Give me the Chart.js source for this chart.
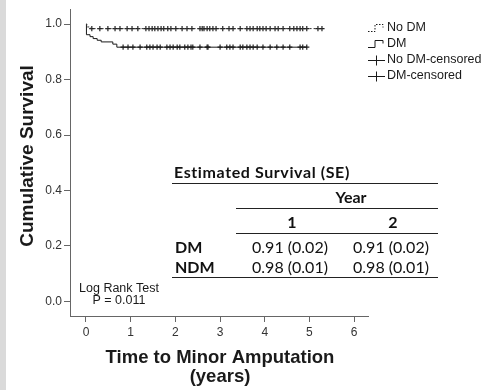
<!DOCTYPE html>
<html>
<head>
<meta charset="utf-8">
<script src="https://cdn.jsdelivr.net/npm/chart.js@4"></script>
<style>
  html, body { margin: 0; padding: 0; background: #fff; }
  #wrap { position: relative; width: 484px; height: 390px; overflow: hidden; }
  #strip { position: absolute; left: 0; top: 0; width: 6px; height: 390px; background: #dadada; }
  canvas { position: absolute; left: 0; top: 0; }
  .t { position: absolute; font-family: Lato, "Open Sans", sans-serif; font-size: 16px; color: #111;
       line-height: 20px; height: 20px; white-space: nowrap; }
  .b { font-weight: bold; }
  .c { transform: translateX(-50%); }
  .ln { position: absolute; height: 1px; background: #222; }
</style>
</head>
<body>
<div id="wrap">
  <div id="strip"></div>
  <canvas id="km" width="484" height="390"></canvas>

  <div class="t b" style="left:174px; top:162px; letter-spacing:0.6px;">Estimated Survival (SE)</div>
  <div class="ln" style="left:172px; top:183px; width:266px;"></div>
  <div class="t b c" style="left:351px; top:187px;">Year</div>
  <div class="ln" style="left:236px; top:208px; width:202px;"></div>
  <div class="t b c" style="left:292px; top:212px;">1</div>
  <div class="t b c" style="left:393px; top:212px;">2</div>
  <div class="ln" style="left:236px; top:233px; width:202px;"></div>
  <div class="t b" style="left:175px; top:237px;">DM</div>
  <div class="t c" style="left:290px; top:237px;">0.91 (0.02)</div>
  <div class="t c" style="left:391px; top:237px;">0.91 (0.02)</div>
  <div class="t b" style="left:175px; top:257px;">NDM</div>
  <div class="t c" style="left:290px; top:257px;">0.98 (0.01)</div>
  <div class="t c" style="left:391px; top:257px;">0.98 (0.01)</div>
  <div class="ln" style="left:172px; top:277px; width:266px;"></div>
</div>

<script>
// Kaplan-Meier step curves (time in years, cumulative survival)
const noDmTimes = [0, 0.02, 0.10, 5.28];
const noDmSurv  = [1.0, 0.990, 0.984, 0.984];
const dmTimes   = [0, 0.01, 0.09, 0.16, 0.25, 0.34, 0.60, 0.69, 4.94];
const dmSurv    = [1.0, 0.962, 0.955, 0.948, 0.942, 0.936, 0.928, 0.917, 0.917];

// censored observations (years)
const noDmCensored = [0.13, 0.31, 0.49, 0.65, 0.76, 0.92, 1.03, 1.16, 1.34, 1.41, 1.48, 1.54, 1.61,
  1.68, 1.74, 1.83, 1.90, 2.01, 2.15, 2.26, 2.37, 2.55, 2.60, 2.64, 2.71, 2.77, 2.84, 2.91, 3.06,
  3.20, 3.29, 3.45, 3.60, 3.67, 3.74, 3.83, 3.89, 3.96, 4.03, 4.12, 4.23, 4.30, 4.41, 4.56, 4.65,
  4.72, 4.79, 4.85, 4.94, 5.19, 5.28];
const dmCensored = [0.83, 0.94, 1.05, 1.21, 1.36, 1.43, 1.50, 1.59, 1.66, 1.81, 1.88, 1.95, 2.04,
  2.10, 2.21, 2.28, 2.35, 2.39, 2.55, 2.71, 2.73, 3.00, 3.15, 3.22, 3.29, 3.45, 3.51, 3.60, 3.67,
  3.74, 3.83, 3.96, 4.12, 4.27, 4.41, 4.56, 4.79, 4.85, 4.94];

const xTicks = [0, 1, 2, 3, 4, 5, 6];
const yTicks = [0, 0.2, 0.4, 0.6, 0.8, 1.0];
const legendLabels = ['No DM', 'DM', 'No DM-censored', 'DM-censored'];

const toPoints = (ts, ss) => ts.map((t, i) => ({ x: t, y: ss[i] }));

// survival value of a step curve at time t
const survAt = (ts, ss, t) => {
  let v = ss[0];
  for (let i = 0; i < ts.length; i++) {
    if (ts[i] <= t) v = ss[i];
  }
  return v;
};
const censorPoints = (cs, ts, ss) => cs.map(t => ({ x: t, y: survAt(ts, ss, t) }));

const ink = '#1a1a1a';
const axisColor = '#666';

const overlay = {
  id: 'overlay',
  afterDraw(chart) {
    const ctx = chart.ctx;
    ctx.save();
    ctx.fillStyle = ink;
    ctx.strokeStyle = ink;
    ctx.lineWidth = 1;

    // axis titles
    ctx.font = 'bold 19px "Liberation Sans", Arial, sans-serif';
    ctx.textAlign = 'center';
    ctx.textBaseline = 'middle';
    ctx.save();
    ctx.translate(28, 156);
    ctx.rotate(-Math.PI / 2);
    ctx.fillText('Cumulative Survival', 0, 0);
    ctx.restore();
    ctx.font = 'bold 18.5px "Liberation Sans", Arial, sans-serif';
    ctx.fillText('Time to Minor Amputation', 220, 358);
    ctx.fillText('(years)', 220, 377);

    // log rank annotation
    ctx.font = '12.5px "Liberation Sans", Arial, sans-serif';
    ctx.fillText('Log Rank Test', 119, 289);
    ctx.fillText('P = 0.011', 119, 301);

    // legend
    const lx = 368, tx = 387;
    const ly = [28, 44, 60, 76];
    ctx.textAlign = 'left';
    ctx.font = '12.5px "Liberation Sans", Arial, sans-serif';
    legendLabels.forEach((lab, i) => {
      const y = ly[i] + 0.5;
      ctx.beginPath();
      if (i < 2) {
        ctx.setLineDash(i === 0 ? [1.5, 1.5] : []);
        ctx.moveTo(lx, y + 3);
        ctx.lineTo(lx + 7, y + 3);
        ctx.lineTo(lx + 7, y - 4);
        ctx.lineTo(lx + 15, y - 4);
        ctx.lineTo(lx + 15, y - 1);
      } else {
        ctx.setLineDash([]);
        ctx.moveTo(lx, y);
        ctx.lineTo(lx + 17, y);
        ctx.moveTo(lx + 8.5, y - 5);
        ctx.lineTo(lx + 8.5, y + 5);
      }
      ctx.stroke();
      ctx.setLineDash([]);
      ctx.fillText(lab, tx, ly[i]);
    });
    ctx.restore();
  }
};

new Chart(document.getElementById('km'), {
  type: 'line',
  data: {
    datasets: [
      {
        label: 'No DM',
        data: toPoints(noDmTimes, noDmSurv),
        stepped: true,
        borderColor: '#333',
        borderWidth: 1,
        borderDash: [2, 2],
        pointRadius: 0,
        fill: false
      },
      {
        label: 'DM',
        data: toPoints(dmTimes, dmSurv),
        stepped: true,
        borderColor: ink,
        borderWidth: 1,
        pointRadius: 0,
        fill: false
      },
      {
        type: 'scatter',
        label: 'No DM-censored',
        data: censorPoints(noDmCensored, noDmTimes, noDmSurv),
        pointStyle: 'cross',
        pointRadius: 2.6,
        borderColor: '#222',
        pointBorderWidth: 1.2,
        showLine: false
      },
      {
        type: 'scatter',
        label: 'DM-censored',
        data: censorPoints(dmCensored, dmTimes, dmSurv),
        pointStyle: 'cross',
        pointRadius: 2.6,
        borderColor: '#222',
        pointBorderWidth: 1.2,
        showLine: false
      }
    ]
  },
  options: {
    responsive: false,
    animation: false,
    layout: { padding: { left: 0, right: 116, top: 0, bottom: 0 } },
    plugins: {
      legend: { display: false },
      tooltip: { enabled: false }
    },
    scales: {
      x: {
        type: 'linear',
        min: -0.358,
        max: 6.31,
        afterFit: s => { s.height = 74; },
        afterBuildTicks: s => { s.ticks = xTicks.map(v => ({ value: v })); },
        ticks: {
          color: '#333',
          font: { family: '"Liberation Sans", Arial, sans-serif', size: 12 },
          padding: 3,
          maxRotation: 0,
          callback: v => String(v)
        },
        grid: { drawOnChartArea: false, tickLength: 6, color: axisColor },
        border: { color: axisColor }
      },
      y: {
        type: 'linear',
        min: -0.0525,
        max: 1.054,
        afterFit: s => { s.width = 70; },
        afterBuildTicks: s => { s.ticks = yTicks.map(v => ({ value: v })); },
        ticks: {
          color: '#333',
          font: { family: '"Liberation Sans", Arial, sans-serif', size: 12 },
          padding: 2,
          callback: v => v.toFixed(1)
        },
        grid: { drawOnChartArea: false, tickLength: 6, color: axisColor },
        border: { color: axisColor }
      }
    }
  },
  plugins: [overlay]
});
</script>
</body>
</html>
